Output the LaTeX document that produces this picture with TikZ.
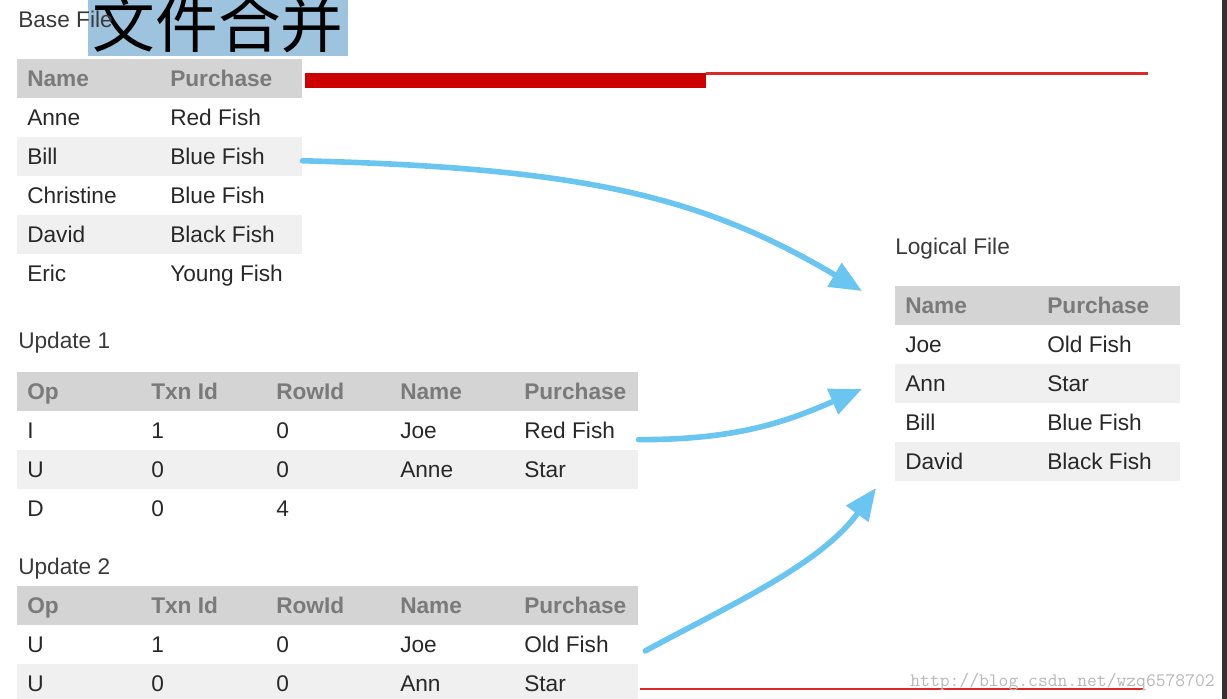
\documentclass[tikz,border=0pt]{standalone}
\usepackage{fontspec}
\setmainfont{Liberation Sans}
\newfontfamily\cjk{Noto Sans CJK SC}
\usepackage{xcolor}
\usepackage{tikz}
\usetikzlibrary{arrows.meta}

\definecolor{hdrgray}{RGB}{212,212,212}
\definecolor{rowgray}{RGB}{240,240,240}
\definecolor{hdrtext}{RGB}{122,122,122}
\definecolor{celltext}{RGB}{40,40,40}
\definecolor{lbltext}{RGB}{58,58,58}
\definecolor{flowblue}{RGB}{106,198,240}
\definecolor{titlebg}{RGB}{158,195,222}
\definecolor{barred}{RGB}{204,0,0}
\definecolor{linered}{RGB}{220,40,40}
\definecolor{marktext}{RGB}{184,184,184}
\definecolor{edgedark}{RGB}{50,50,50}

\tikzset{
  rowbox/.style={inner sep=0pt, minimum height=29.25pt, anchor=north west},
  basew/.style={minimum width=213.75pt},
  updw/.style={minimum width=465.75pt},
  cell/.style={anchor=base west, inner sep=0pt, text=celltext, font=\fontsize{17}{20}\selectfont},
  hdrcell/.style={cell, text=hdrtext, font=\fontsize{17}{20}\selectfont\bfseries},
  lbl/.style={cell, text=lbltext},
  flow/.style={draw=flowblue, line width=4.2pt, line cap=round, -{Triangle[length=24pt,width=20pt]}}
}

\begin{document}
\begin{tikzpicture}[x=0.75pt,y=-0.75pt]
                \useasboundingbox (0,0) rectangle (1227,699);
                \clip (0,0) rectangle (1227,699);
                % title overlay
                \fill [titlebg] (88,0) rectangle (348,56);
                \node [inner sep=0pt, font=\cjk\fontsize{47}{50}\selectfont] (title) at (218,24) {文件合并};
                \node [lbl] (baselbl) at (18,28) {Base File};
                % red rules
                \fill [barred] (305,73) rectangle (706,88);
                \fill [linered] (706,72.5) rectangle (1148,75);
                \draw [linered, line width=1.6pt] (640,689) -- (1143,689);
                \fill [edgedark] (1222,0) rectangle (1227,699);
                % base file
                \node [rowbox, basew, fill=hdrgray] (bh) at (17,59) {};
                \node [rowbox, basew] (b1) at (17,98) {};
                \node [rowbox, basew, fill=rowgray] (b2) at (17,137) {};
                \node [rowbox, basew] (b3) at (17,176) {};
                \node [rowbox, basew, fill=rowgray] (b4) at (17,215) {};
                \node [rowbox, basew] (b5) at (17,254) {};
                \node [hdrcell] (bhn) at (27,86.5) {Name};
                \node [hdrcell] (bhp) at (170,86.5) {Purchase};
                \node [cell] (b1n) at (27,125.5) {Anne};
                \node [cell] (b1p) at (170,125.5) {Red Fish};
                \node [cell] (b2n) at (27,164.5) {Bill};
                \node [cell] (b2p) at (170,164.5) {Blue Fish};
                \node [cell] (b3n) at (27,203.5) {Christine};
                \node [cell] (b3p) at (170,203.5) {Blue Fish};
                \node [cell] (b4n) at (27,242.5) {David};
                \node [cell] (b4p) at (170,242.5) {Black Fish};
                \node [cell] (b5n) at (27,281.5) {Eric};
                \node [cell] (b5p) at (170,281.5) {Young Fish};
                % logical file
                \node [lbl] (loglbl) at (895,254) {Logical File};
                \node [rowbox, basew, fill=hdrgray] (lh) at (895,285.5) {};
                \node [rowbox, basew] (l1) at (895,324.5) {};
                \node [rowbox, basew, fill=rowgray] (l2) at (895,363.5) {};
                \node [rowbox, basew] (l3) at (895,402.5) {};
                \node [rowbox, basew, fill=rowgray] (l4) at (895,441.5) {};
                \node [hdrcell] (lhn) at (905,313) {Name};
                \node [hdrcell] (lhp) at (1047,313) {Purchase};
                \node [cell] (l1n) at (905,352) {Joe};
                \node [cell] (l1p) at (1047,352) {Old Fish};
                \node [cell] (l2n) at (905,391) {Ann};
                \node [cell] (l2p) at (1047,391) {Star};
                \node [cell] (l3n) at (905,430) {Bill};
                \node [cell] (l3p) at (1047,430) {Blue Fish};
                \node [cell] (l4n) at (905,469) {David};
                \node [cell] (l4p) at (1047,469) {Black Fish};
                % update 1
                \node [lbl] (u1lbl) at (18,348) {Update 1};
                \node [rowbox, updw, fill=hdrgray] (uah) at (17,371.5) {};
                \node [rowbox, updw] (ua1) at (17,410.5) {};
                \node [rowbox, updw, fill=rowgray] (ua2) at (17,449.5) {};
                \node [rowbox, updw] (ua3) at (17,488.5) {};
                \node [hdrcell] (uaho) at (27,399) {Op};
                \node [hdrcell] (uaht) at (151,399) {Txn Id};
                \node [hdrcell] (uahr) at (276,399) {RowId};
                \node [hdrcell] (uahn) at (400,399) {Name};
                \node [hdrcell] (uahp) at (524,399) {Purchase};
                \node [cell] (ua1o) at (27,438) {I};
                \node [cell] (ua1t) at (151,438) {1};
                \node [cell] (ua1r) at (276,438) {0};
                \node [cell] (ua1n) at (400,438) {Joe};
                \node [cell] (ua1p) at (524,438) {Red Fish};
                \node [cell] (ua2o) at (27,477) {U};
                \node [cell] (ua2t) at (151,477) {0};
                \node [cell] (ua2r) at (276,477) {0};
                \node [cell] (ua2n) at (400,477) {Anne};
                \node [cell] (ua2p) at (524,477) {Star};
                \node [cell] (ua3o) at (27,516) {D};
                \node [cell] (ua3t) at (151,516) {0};
                \node [cell] (ua3r) at (276,516) {4};
                % update 2
                \node [lbl] (u2lbl) at (18,574) {Update 2};
                \node [rowbox, updw, fill=hdrgray] (ubh) at (17,585.5) {};
                \node [rowbox, updw] (ub1) at (17,624.5) {};
                \node [rowbox, updw, fill=rowgray] (ub2) at (17,663.5) {};
                \node [hdrcell] (ubho) at (27,613) {Op};
                \node [hdrcell] (ubht) at (151,613) {Txn Id};
                \node [hdrcell] (ubhr) at (276,613) {RowId};
                \node [hdrcell] (ubhn) at (400,613) {Name};
                \node [hdrcell] (ubhp) at (524,613) {Purchase};
                \node [cell] (ub1o) at (27,652) {U};
                \node [cell] (ub1t) at (151,652) {1};
                \node [cell] (ub1r) at (276,652) {0};
                \node [cell] (ub1n) at (400,652) {Joe};
                \node [cell] (ub1p) at (524,652) {Old Fish};
                \node [cell] (ub2o) at (27,691) {U};
                \node [cell] (ub2t) at (151,691) {0};
                \node [cell] (ub2r) at (276,691) {0};
                \node [cell] (ub2n) at (400,691) {Ann};
                \node [cell] (ub2p) at (524,691) {Star};
                % arrows into the logical file
                \coordinate (tip1) at (862,291);
                \coordinate (tip2) at (862,389);
                \coordinate (tip3) at (876,488);
                \draw [flow] ([yshift=-3pt]b2.east) .. controls (580,168) and (700,195) .. (tip1);
                \draw [flow] ([yshift=-7pt]ua1.east) .. controls (740,440) and (790,420) .. (tip2);
                \draw [flow] ([xshift=5pt,yshift=-5pt]ub1.east) .. controls (730,605) and (820,565) .. (tip3);
                % watermark
                \node [anchor=base east, inner sep=0pt, text=marktext, font=\ttfamily\fontsize{14.3}{16}\selectfont] (mark) at (1215,686) {http://blog.csdn.net/wzq6578702};
\end{tikzpicture}
\end{document}
